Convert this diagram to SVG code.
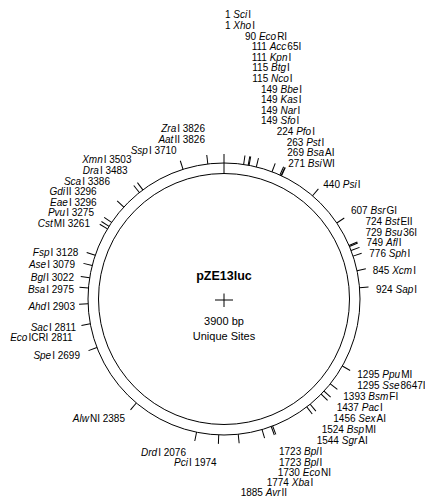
<svg xmlns="http://www.w3.org/2000/svg" width="425" height="500" viewBox="0 0 425 500">
<style>
text{font-family:"Liberation Sans",Arial,Helvetica,sans-serif;font-size:10px;fill:#000}
.i{font-style:italic}
.e{text-anchor:end}
.c{text-anchor:middle;font-size:11px}
.t{stroke:#000;stroke-width:1;fill:none}
.ring{stroke:#000;stroke-width:1;fill:none}
</style>
<rect width="425" height="500" fill="#fff"/>
<g id="map">
<circle class="ring" cx="224" cy="299" r="136"/>
<circle class="ring" cx="224" cy="299" r="125.5"/>
</g>
<g id="center">
<text x="224" y="280" style="text-anchor:middle;font-size:12.5px;font-weight:bold">pZE13luc</text>
<line class="t" x1="215" y1="300" x2="233" y2="300"/>
<line class="t" x1="224" y1="293.5" x2="224" y2="307"/>
<text class="c" x="224" y="324.5">3900 bp</text>
<text class="c" x="224" y="340">Unique Sites</text>
</g>
<g id="connectors">
<line class="t" x1="224" y1="173.5" x2="224" y2="154"/>
<line class="t" x1="224" y1="163" x2="224" y2="154" transform="rotate(8.31 224 299)"/>
<line class="t" x1="224" y1="163" x2="224" y2="154" transform="rotate(10.25 224 299)"/>
<line class="t" x1="224" y1="163" x2="224" y2="154" transform="rotate(10.62 224 299)"/>
<line class="t" x1="224" y1="163" x2="224" y2="154" transform="rotate(13.75 224 299)"/>
<line class="t" x1="224" y1="163" x2="224" y2="154" transform="rotate(20.68 224 299)"/>
<line class="t" x1="224" y1="163" x2="224" y2="154" transform="rotate(24.28 224 299)"/>
<line class="t" x1="224" y1="163" x2="224" y2="154" transform="rotate(24.83 224 299)"/>
<line class="t" x1="224" y1="163" x2="224" y2="154" transform="rotate(25.02 224 299)"/>
<line class="t" x1="224" y1="163" x2="224" y2="154" transform="rotate(40.62 224 299)"/>
<line class="t" x1="224" y1="163" x2="224" y2="154" transform="rotate(56.03 224 299)"/>
<line class="t" x1="224" y1="163" x2="224" y2="154" transform="rotate(66.83 224 299)"/>
<line class="t" x1="224" y1="163" x2="224" y2="154" transform="rotate(67.29 224 299)"/>
<line class="t" x1="224" y1="163" x2="224" y2="154" transform="rotate(69.14 224 299)"/>
<line class="t" x1="224" y1="163" x2="224" y2="154" transform="rotate(71.63 224 299)"/>
<line class="t" x1="224" y1="163" x2="224" y2="154" transform="rotate(78.00 224 299)"/>
<line class="t" x1="224" y1="163" x2="224" y2="154" transform="rotate(85.29 224 299)"/>
<line class="t" x1="224" y1="163" x2="224" y2="154" transform="rotate(119.54 224 299)"/>
<line class="t" x1="224" y1="163" x2="224" y2="154" transform="rotate(128.58 224 299)"/>
<line class="t" x1="224" y1="163" x2="224" y2="154" transform="rotate(132.65 224 299)"/>
<line class="t" x1="224" y1="163" x2="224" y2="154" transform="rotate(134.40 224 299)"/>
<line class="t" x1="224" y1="163" x2="224" y2="154" transform="rotate(140.68 224 299)"/>
<line class="t" x1="224" y1="163" x2="224" y2="154" transform="rotate(142.52 224 299)"/>
<line class="t" x1="224" y1="163" x2="224" y2="154" transform="rotate(159.05 224 299)"/>
<line class="t" x1="224" y1="163" x2="224" y2="154" transform="rotate(159.69 224 299)"/>
<line class="t" x1="224" y1="163" x2="224" y2="154" transform="rotate(163.75 224 299)"/>
<line class="t" x1="224" y1="163" x2="224" y2="154" transform="rotate(174.00 224 299)"/>
<line class="t" x1="224" y1="163" x2="224" y2="154" transform="rotate(182.22 224 299)"/>
<line class="t" x1="224" y1="163" x2="224" y2="154" transform="rotate(191.63 224 299)"/>
<line class="t" x1="224" y1="163" x2="224" y2="154" transform="rotate(220.15 224 299)"/>
<line class="t" x1="224" y1="163" x2="224" y2="154" transform="rotate(249.14 224 299)"/>
<line class="t" x1="224" y1="163" x2="224" y2="154" transform="rotate(259.48 224 299)"/>
<line class="t" x1="224" y1="163" x2="224" y2="154" transform="rotate(267.97 224 299)"/>
<line class="t" x1="224" y1="163" x2="224" y2="154" transform="rotate(274.62 224 299)"/>
<line class="t" x1="224" y1="163" x2="224" y2="154" transform="rotate(278.95 224 299)"/>
<line class="t" x1="224" y1="163" x2="224" y2="154" transform="rotate(284.22 224 299)"/>
<line class="t" x1="224" y1="163" x2="224" y2="154" transform="rotate(288.74 224 299)"/>
<line class="t" x1="224" y1="163" x2="224" y2="154" transform="rotate(301.02 224 299)"/>
<line class="t" x1="224" y1="163" x2="224" y2="154" transform="rotate(302.31 224 299)"/>
<line class="t" x1="224" y1="163" x2="224" y2="154" transform="rotate(304.25 224 299)"/>
<line class="t" x1="224" y1="163" x2="224" y2="154" transform="rotate(312.55 224 299)"/>
<line class="t" x1="224" y1="163" x2="224" y2="154" transform="rotate(321.51 224 299)"/>
<line class="t" x1="224" y1="163" x2="224" y2="154" transform="rotate(323.35 224 299)"/>
<line class="t" x1="224" y1="163" x2="224" y2="154" transform="rotate(342.46 224 299)"/>
<line class="t" x1="224" y1="163" x2="224" y2="154" transform="rotate(353.17 224 299)"/>
</g>
<g id="labels-top">
<g id="SciI"><text x="225" y="18.4">1 <tspan class="i">Sci</tspan><tspan dx="1">I</tspan></text></g>
<g id="XhoI"><text x="225" y="29">1 <tspan class="i">Xho</tspan><tspan dx="1">I</tspan></text></g>
<g id="EcoRI"><text x="245" y="39.6">90 <tspan class="i">Eco</tspan><tspan dx="1">RI</tspan></text></g>
<g id="Acc65I"><text x="251.7" y="50.2">111 <tspan class="i">Acc</tspan><tspan dx="1">65I</tspan></text></g>
<g id="KpnI"><text x="251.7" y="60.8">111 <tspan class="i">Kpn</tspan><tspan dx="1">I</tspan></text></g>
<g id="BtgI"><text x="252.3" y="71.4">115 <tspan class="i">Btg</tspan><tspan dx="1">I</tspan></text></g>
<g id="NcoI"><text x="252.3" y="82">115 <tspan class="i">Nco</tspan><tspan dx="1">I</tspan></text></g>
<g id="BbeI"><text x="261" y="92.6">149 <tspan class="i">Bbe</tspan><tspan dx="1">I</tspan></text></g>
<g id="KasI"><text x="261" y="103.2">149 <tspan class="i">Kas</tspan><tspan dx="1">I</tspan></text></g>
<g id="NarI"><text x="261" y="113.8">149 <tspan class="i">Nar</tspan><tspan dx="1">I</tspan></text></g>
<g id="SfoI"><text x="261" y="124.4">149 <tspan class="i">Sfo</tspan><tspan dx="1">I</tspan></text></g>
<g id="PfoI"><text x="276.7" y="135">224 <tspan class="i">Pfo</tspan><tspan dx="1">I</tspan></text></g>
<g id="PstI"><text x="286.7" y="145.6">263 <tspan class="i">Pst</tspan><tspan dx="1">I</tspan></text></g>
<g id="BsaAI"><text x="287.3" y="156.2">269 <tspan class="i">Bsa</tspan><tspan dx="1">AI</tspan></text></g>
<g id="BsiWI"><text x="288.3" y="166.8">271 <tspan class="i">Bsi</tspan><tspan dx="1">WI</tspan></text></g>
</g>
<g id="labels-right">
<g id="PsiI"><text x="323.3" y="187.9">440 <tspan class="i">Psi</tspan><tspan dx="1">I</tspan></text></g>
<g id="BsrGI"><text x="351" y="214.3">607 <tspan class="i">Bsr</tspan><tspan dx="1">GI</tspan></text></g>
<g id="BstEII"><text x="365.5" y="225">724 <tspan class="i">Bst</tspan><tspan dx="1">EII</tspan></text></g>
<g id="Bsu36I"><text x="365.5" y="235.6">729 <tspan class="i">Bsu</tspan><tspan dx="1">36I</tspan></text></g>
<g id="AflI"><text x="366.5" y="246.4">749 <tspan class="i">Afl</tspan><tspan dx="1">I</tspan></text></g>
<g id="SphI"><text x="369.3" y="256.9">776 <tspan class="i">Sph</tspan><tspan dx="1">I</tspan></text></g>
<g id="XcmI"><text x="372.7" y="273.6">845 <tspan class="i">Xcm</tspan><tspan dx="1">I</tspan></text></g>
<g id="SapI"><text x="376" y="292.6">924 <tspan class="i">Sap</tspan><tspan dx="1">I</tspan></text></g>
<g id="PpuMI"><text x="357.3" y="377.9">1295 <tspan class="i">Ppu</tspan><tspan dx="1">MI</tspan></text></g>
<g id="Sse8647I"><text x="357.3" y="388.6">1295 <tspan class="i">Sse</tspan><tspan dx="1">8647I</tspan></text></g>
<g id="BsmFI"><text x="343.3" y="399.6">1393 <tspan class="i">Bsm</tspan><tspan dx="1">FI</tspan></text></g>
<g id="PacI"><text x="336.7" y="411.3">1437 <tspan class="i">Pac</tspan><tspan dx="1">I</tspan></text></g>
<g id="SexAI"><text x="333.3" y="421.9">1456 <tspan class="i">Sex</tspan><tspan dx="1">AI</tspan></text></g>
<g id="BspMI"><text x="321.7" y="432.9">1524 <tspan class="i">Bsp</tspan><tspan dx="1">MI</tspan></text></g>
<g id="SgrAI"><text x="316.7" y="443.6">1544 <tspan class="i">Sgr</tspan><tspan dx="1">AI</tspan></text></g>
<g id="BplI-1"><text x="279" y="455.1">1723 <tspan class="i">Bpl</tspan><tspan dx="1">I</tspan></text></g>
<g id="BplI-2"><text x="279" y="465.6">1723 <tspan class="i">Bpl</tspan><tspan dx="1">I</tspan></text></g>
<g id="EcoNI"><text x="277.7" y="475.6">1730 <tspan class="i">Eco</tspan><tspan dx="1">NI</tspan></text></g>
<g id="XbaI"><text x="266.7" y="485.6">1774 <tspan class="i">Xba</tspan><tspan dx="1">I</tspan></text></g>
<g id="AvrII"><text x="240.7" y="495.6">1885 <tspan class="i">Avr</tspan><tspan dx="1">II</tspan></text></g>
</g>
<g id="labels-left">
<g id="ZraI"><text class="e" x="205" y="132.1"><tspan class="i">Zra</tspan><tspan dx="1">I</tspan> 3826</text></g>
<g id="AatII"><text class="e" x="205" y="142.8"><tspan class="i">Aat</tspan><tspan dx="1">II</tspan> 3826</text></g>
<g id="SspI"><text class="e" x="176.7" y="153.6"><tspan class="i">Ssp</tspan><tspan dx="1">I</tspan> 3710</text></g>
<g id="XmnI"><text class="e" x="131.5" y="163.4"><tspan class="i">Xmn</tspan><tspan dx="1">I</tspan> 3503</text></g>
<g id="DraI"><text class="e" x="127.7" y="174.1"><tspan class="i">Dra</tspan><tspan dx="1">I</tspan> 3483</text></g>
<g id="ScaI"><text class="e" x="110" y="184.6"><tspan class="i">Sca</tspan><tspan dx="1">I</tspan> 3386</text></g>
<g id="GdiII"><text class="e" x="96.7" y="195.3"><tspan class="i">Gdi</tspan><tspan dx="1">II</tspan> 3296</text></g>
<g id="EaeI"><text class="e" x="96.7" y="205.6"><tspan class="i">Eae</tspan><tspan dx="1">I</tspan> 3296</text></g>
<g id="PvuI"><text class="e" x="94" y="216.1"><tspan class="i">Pvu</tspan><tspan dx="1">I</tspan> 3275</text></g>
<g id="CstMI"><text class="e" x="90" y="226.9"><tspan class="i">Cst</tspan><tspan dx="1">MI</tspan> 3261</text></g>
<g id="FspI"><text class="e" x="78.3" y="256.3"><tspan class="i">Fsp</tspan><tspan dx="1">I</tspan> 3128</text></g>
<g id="AseI"><text class="e" x="75" y="267.6"><tspan class="i">Ase</tspan><tspan dx="1">I</tspan> 3079</text></g>
<g id="BglI"><text class="e" x="74" y="281.3"><tspan class="i">Bgl</tspan><tspan dx="1">I</tspan> 3022</text></g>
<g id="BsaI"><text class="e" x="74" y="292.9"><tspan class="i">Bsa</tspan><tspan dx="1">I</tspan> 2975</text></g>
<g id="AhdI"><text class="e" x="75" y="310.3"><tspan class="i">Ahd</tspan><tspan dx="1">I</tspan> 2903</text></g>
<g id="SacI"><text class="e" x="76" y="331.3"><tspan class="i">Sac</tspan><tspan dx="1">I</tspan> 2811</text></g>
<g id="EcoICRI"><text class="e" x="72.7" y="341.3"><tspan class="i">Eco</tspan><tspan dx="1">ICRI</tspan> 2811</text></g>
<g id="SpeI"><text class="e" x="80" y="358.6"><tspan class="i">Spe</tspan><tspan dx="1">I</tspan> 2699</text></g>
<g id="AlwNI"><text class="e" x="125" y="421.9"><tspan class="i">Alw</tspan><tspan dx="1">NI</tspan> 2385</text></g>
<g id="DrdI"><text class="e" x="186" y="455.6"><tspan class="i">Drd</tspan><tspan dx="1">I</tspan> 2076</text></g>
<g id="PciI"><text class="e" x="216.7" y="465.9"><tspan class="i">Pci</tspan><tspan dx="1">I</tspan> 1974</text></g>
</g>
</svg>
